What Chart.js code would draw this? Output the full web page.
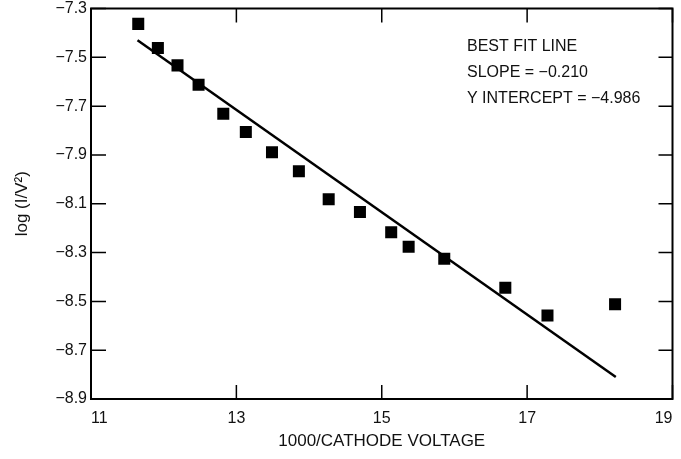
<!DOCTYPE html>
<html>
<head>
<meta charset="utf-8">
<script src="https://cdn.jsdelivr.net/npm/chart.js@4/dist/chart.umd.min.js"></script>
<style>
  body { margin: 0; background: #fff; }
  canvas { display: block; }
</style>
</head>
<body>
<canvas id="chart" width="681" height="459"></canvas>
<script>
var xValues = [11.65, 11.92, 12.19, 12.48, 12.82, 13.13, 13.49, 13.86, 14.27, 14.70, 15.13, 15.37, 15.86, 16.70, 17.28, 18.21];
var yValues = [-7.363, -7.462, -7.533, -7.612, -7.731, -7.806, -7.889, -7.967, -8.082, -8.134, -8.217, -8.276, -8.325, -8.444, -8.558, -8.512];
// best fit line end points
var fitX = [11.64, 18.22];
var fitY = [-7.43, -8.81];
var noteLines = ['BEST FIT LINE', 'SLOPE = \u22120.210', 'Y INTERCEPT = \u22124.986'];
var xTitle = '1000/CATHODE VOLTAGE';
var yTitle = 'log (I/V\u00B2)';

var fontName = '"Liberation Sans", Arial, sans-serif';

var points = xValues.map(function (v, i) { return {x: v, y: yValues[i]}; });
var fitLine = fitX.map(function (v, i) { return {x: v, y: fitY[i]}; });

var boxPlugin = {
    id: 'box',
    afterDraw: function (chart) {
        var ctx = chart.ctx, a = chart.chartArea;
        var x = chart.scales.x, y = chart.scales.y;
        ctx.save();
        ctx.strokeStyle = '#000';
        ctx.lineWidth = 2;
        ctx.strokeRect(a.left, a.top, a.right - a.left, a.bottom - a.top);
        // inward ticks on all four sides
        ctx.lineWidth = 1.5;
        ctx.beginPath();
        x.ticks.forEach(function (t) {
            var px = x.getPixelForValue(t.value);
            ctx.moveTo(px, a.bottom); ctx.lineTo(px, a.bottom - 14);
            ctx.moveTo(px, a.top); ctx.lineTo(px, a.top + 14);
        });
        y.ticks.forEach(function (t) {
            var py = y.getPixelForValue(t.value);
            ctx.moveTo(a.left, py); ctx.lineTo(a.left + 15, py);
            ctx.moveTo(a.right, py); ctx.lineTo(a.right - 14, py);
        });
        ctx.stroke();
        ctx.fillStyle = '#111';
        ctx.font = '16px ' + fontName;
        ctx.textAlign = 'left';
        ctx.textBaseline = 'middle';
        noteLines.forEach(function (s, i) {
            ctx.fillText(s, a.left + 376, a.top + 38 + i * 26);
        });
        ctx.restore();
    }
};

new Chart(document.getElementById('chart').getContext('2d'), {
    type: 'scatter',
    data: {
        datasets: [{
            data: points,
            pointStyle: 'rect',
            pointRadius: 8.5,
            pointHoverRadius: 8.5,
            backgroundColor: '#000',
            borderWidth: 0
        }, {
            data: fitLine,
            showLine: true,
            pointRadius: 0,
            borderColor: '#000',
            borderWidth: 2.5
        }]
    },
    options: {
        responsive: false,
        animation: false,
        layout: {padding: {left: 0, right: 4, top: 8, bottom: 0}},
        plugins: {legend: {display: false}, tooltip: {enabled: false}},
        scales: {
            x: {
                min: 11, max: 19,
                border: {display: false},
                grid: {display: false, drawTicks: false},
                ticks: {stepSize: 2, align: 'inner', padding: 10, color: '#111', font: {family: fontName, size: 16}},
                title: {display: true, text: xTitle, color: '#111', font: {family: fontName, size: 17}, padding: {top: 0, bottom: 7}},
                afterFit: function (s) { s.height = 60; s.paddingLeft = 0; s.paddingRight = 0; }
            },
            y: {
                min: -8.9, max: -7.3,
                border: {display: false},
                grid: {display: false, drawTicks: false},
                ticks: {stepSize: 0.2, align: 'inner', padding: 4, color: '#111', font: {family: fontName, size: 16},
                    callback: function (v) { return v.toFixed(1).replace('-', '\u2212'); }},
                title: {display: true, text: yTitle, color: '#111', font: {family: fontName, size: 17}, padding: {top: 12, bottom: 0}},
                afterFit: function (s) { s.width = 91; s.paddingTop = 0; s.paddingBottom = 0; }
            }
        }
    },
    plugins: [boxPlugin]
});
</script>
</body>
</html>
